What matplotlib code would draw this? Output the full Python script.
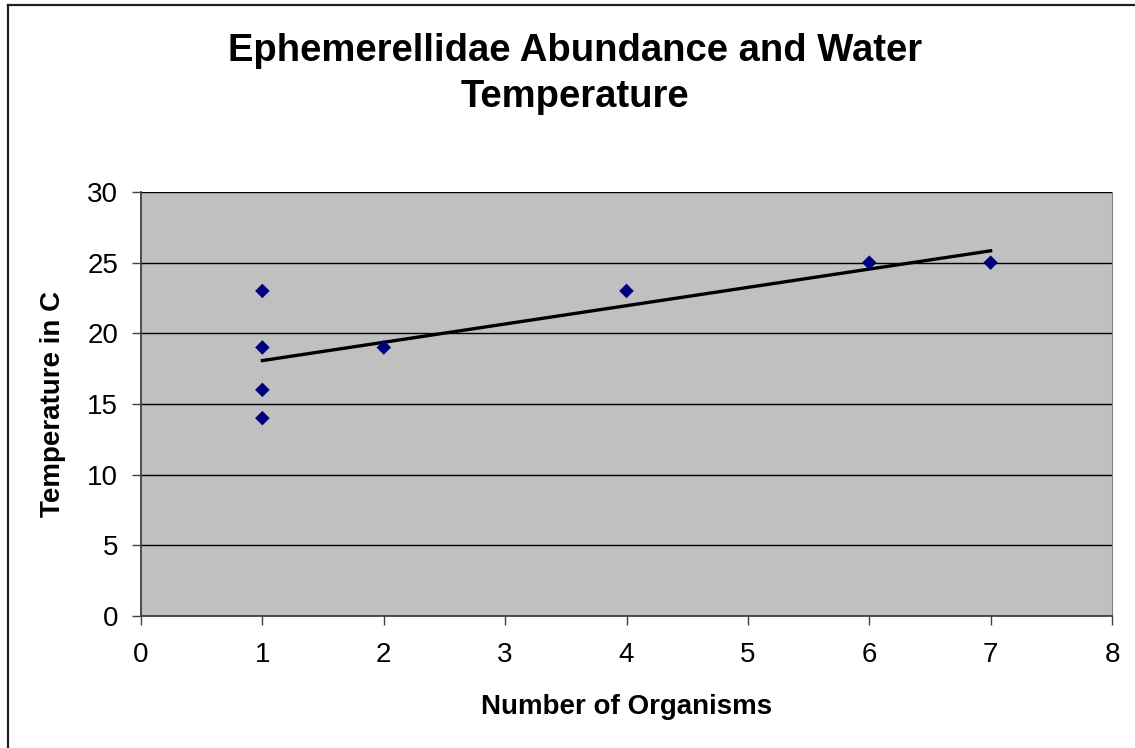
import numpy as np
import matplotlib
matplotlib.use("Agg")
import matplotlib.pyplot as plt
from matplotlib.lines import Line2D

plt.rcParams["font.family"] = ["Liberation Sans", "DejaVu Sans"]

# data
organisms = [1, 1, 1, 1, 2, 4, 6, 7]
temperature = [23, 19, 16, 14, 19, 23, 25, 25]
x_ticks = [0, 1, 2, 3, 4, 5, 6, 7, 8]
y_ticks = [0, 5, 10, 15, 20, 25, 30]

W, H = 1135, 748
fig = plt.figure(figsize=(W / 100, H / 100), dpi=100)
ax = fig.add_axes([141 / W, 1 - 616 / H, 971 / W, 424 / H])
ax.set_facecolor("#c0c0c0")

# linear trendline, like Excel's
slope, intercept = np.polyfit(organisms, temperature, 1)
xs = np.array([min(organisms), max(organisms)])
ax.plot(xs, slope * xs + intercept, color="black", lw=2.4, zorder=3)

ax.scatter(organisms, temperature, marker="D", s=55, color="#000080",
           edgecolors="none", zorder=4)

ax.set_xlim(0, 8)
ax.set_ylim(0, 30)
ax.set_xticks(x_ticks)
ax.set_yticks(y_ticks)
ax.yaxis.grid(True, color="black", lw=1)
ax.set_axisbelow(True)
ax.tick_params(labelsize=20, length=6.5, width=1, color="#404040")
ax.tick_params(axis="x", pad=12)
ax.tick_params(axis="y", pad=10)

for side in ("left", "bottom"):
    ax.spines[side].set_color("#404040")
    ax.spines[side].set_linewidth(1.3)
ax.spines["right"].set_color("#808080")
ax.spines["top"].set_visible(False)

ax.set_xlabel("Number of Organisms", fontsize=20, fontweight="bold", va="center")
ax.xaxis.set_label_coords(0.5, -(707 - 616) / 424)
ax.set_ylabel("Temperature in C", fontsize=20, fontweight="bold", va="center")
ax.yaxis.set_label_coords(-(141 - 53) / 971, 0.5)

fig.text(575 / W, 1 - 74 / H,
         "Ephemerellidae Abundance and Water\nTemperature",
         ha="center", va="center", fontsize=27.5, fontweight="bold",
         linespacing=1.33)

# chart-area border (only top and left edges fall inside the picture)
fig.add_artist(Line2D([8 / W, 1], [1 - 5 / H, 1 - 5 / H], transform=fig.transFigure,
                      color="#202020", lw=1.6))
fig.add_artist(Line2D([8 / W, 8 / W], [0, 1 - 5 / H], transform=fig.transFigure,
                      color="#202020", lw=1.6))

fig.savefig("out.png", dpi=100)
